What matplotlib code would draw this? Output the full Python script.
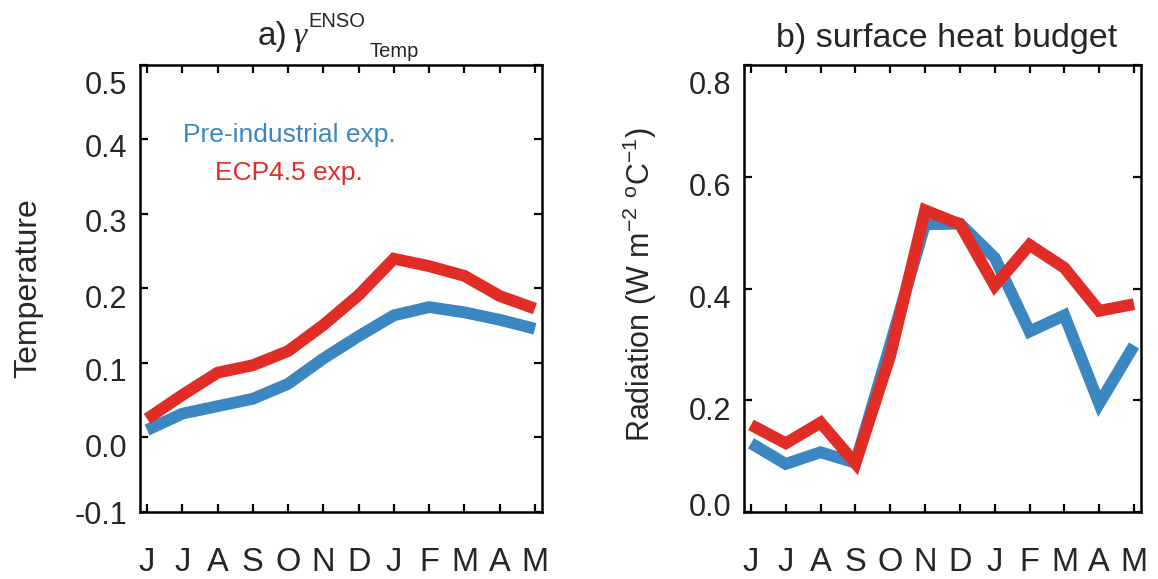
import matplotlib
matplotlib.use("Agg")
import matplotlib.pyplot as plt
import matplotlib.transforms as mtransforms

plt.rcParams['font.family'] = ['Liberation Sans', 'DejaVu Sans']
plt.rcParams['mathtext.fontset'] = 'custom'
plt.rcParams['mathtext.rm'] = 'Liberation Sans'
plt.rcParams['mathtext.it'] = 'Liberation Sans:italic'
TXT = '#262626'
plt.rcParams['text.color'] = TXT
plt.rcParams['xtick.labelcolor'] = TXT
plt.rcParams['ytick.labelcolor'] = TXT
plt.rcParams['axes.labelcolor'] = TXT

# ---------------- data ----------------
months = ['J', 'J', 'A', 'S', 'O', 'N', 'D', 'J', 'F', 'M', 'A', 'M']

temp_pre = [0.010, 0.032, 0.042, 0.052, 0.072, 0.106, 0.136, 0.164, 0.175, 0.168, 0.158, 0.146]
temp_rcp = [0.025, 0.057, 0.087, 0.097, 0.116, 0.151, 0.191, 0.240, 0.230, 0.217, 0.190, 0.173]

rad_pre = [0.123, 0.086, 0.107, 0.088, 0.300, 0.515, 0.516, 0.455, 0.323, 0.352, 0.194, 0.298]
rad_rcp = [0.156, 0.123, 0.160, 0.087, 0.280, 0.540, 0.515, 0.405, 0.478, 0.437, 0.360, 0.372]

temp_yticks = [-0.1, 0.0, 0.1, 0.2, 0.3, 0.4, 0.5]
temp_ylabels = ['-0.1', '0.0', '0.1', '0.2', '0.3', '0.4', '0.5']
rad_yticks = [0.0, 0.2, 0.4, 0.6, 0.8]
rad_ylabels = ['0.0', '0.2', '0.4', '0.6', '0.8']

series_names = ['Pre-industrial exp.', 'ECP4.5 exp.']
# --------------------------------------

BLUE = '#3a87c2'
RED = '#e12d26'
W, H = 1158, 579

fig = plt.figure(figsize=(W / 100, H / 100), dpi=100)


def px_axes(x0, y0, x1, y1):
    return fig.add_axes([x0 / W, 1 - y1 / H, (x1 - x0) / W, (y1 - y0) / H])


axL = px_axes(140, 65, 542, 512)
axR = px_axes(744, 65, 1141, 512)

x = list(range(len(months)))
lw = 8.5
for ax, pre, rcp in [(axL, temp_pre, temp_rcp), (axR, rad_pre, rad_rcp)]:
    ax.plot(x, pre, color=BLUE, lw=lw, solid_joinstyle='miter', solid_capstyle='butt')
    ax.plot(x, rcp, color=RED, lw=lw, solid_joinstyle='miter', solid_capstyle='butt')
    ax.set_xlim(-0.2, 11.2)
    ax.set_xticks(x)
    ax.set_xticklabels(months, fontsize=23.5)
    for s in ax.spines.values():
        s.set_linewidth(1.8)
    ax.tick_params(axis='both', direction='in', length=6, width=1.6,
                   top=True, right=True, color='black')
    ax.tick_params(axis='x', pad=25)
    ax.tick_params(axis='y', labelsize=22, pad=9)

axL.set_ylim(-0.1, 0.5)
axL.set_yticks(temp_yticks)
axL.set_yticklabels(temp_ylabels)
axR.set_ylim(0.0, 0.8)
axR.set_yticks(rad_yticks)
axR.set_yticklabels(rad_ylabels)


def shift_labels(ax, offsets):
    for lbl, dy in zip(ax.get_yticklabels(), offsets):
        lbl.set_transform(lbl.get_transform() +
                          mtransforms.ScaledTranslation(0, -dy / 100, fig.dpi_scale_trans))


shift_labels(axL, [0, 8, 7, 8, 7, 6, 18])
shift_labels(axR, [-7, 8, 8, 8, 18])

axL.set_ylabel('Temperature', fontsize=23, va='center')
axL.yaxis.set_label_coords(-0.279, 0.5)
axR.set_ylabel(r'Radiation (W m$^{\mathregular{-2}}$ $^{\mathregular{o}}$C$^{\mathregular{-1}}$)',
               fontsize=22, va='center')
axR.yaxis.set_label_coords(-0.262, 0.51)

axL.text(0.371, 0.828, series_names[0], transform=axL.transAxes, color=BLUE,
         fontsize=19, ha='center', va='baseline')
axL.text(0.371, 0.743, series_names[1], transform=axL.transAxes, color=RED,
         fontsize=19, ha='center', va='baseline')


def ftext(xp, yp, s, **kw):
    fig.text(xp / W, 1 - yp / H, s, va='baseline', **kw)


ftext(258, 45, 'a)', fontsize=24, ha='left')
ftext(293, 45, 'γ', fontsize=24, ha='left', family=['Liberation Serif'], style='italic')
ftext(308, 27, 'ENSO', fontsize=14.5, ha='left')
ftext(370, 57, 'Temp', fontsize=14.5, ha='left')
ftext(947, 47, 'b) surface heat budget', fontsize=24.5, ha='center')

fig.savefig('out.png', dpi=100)
